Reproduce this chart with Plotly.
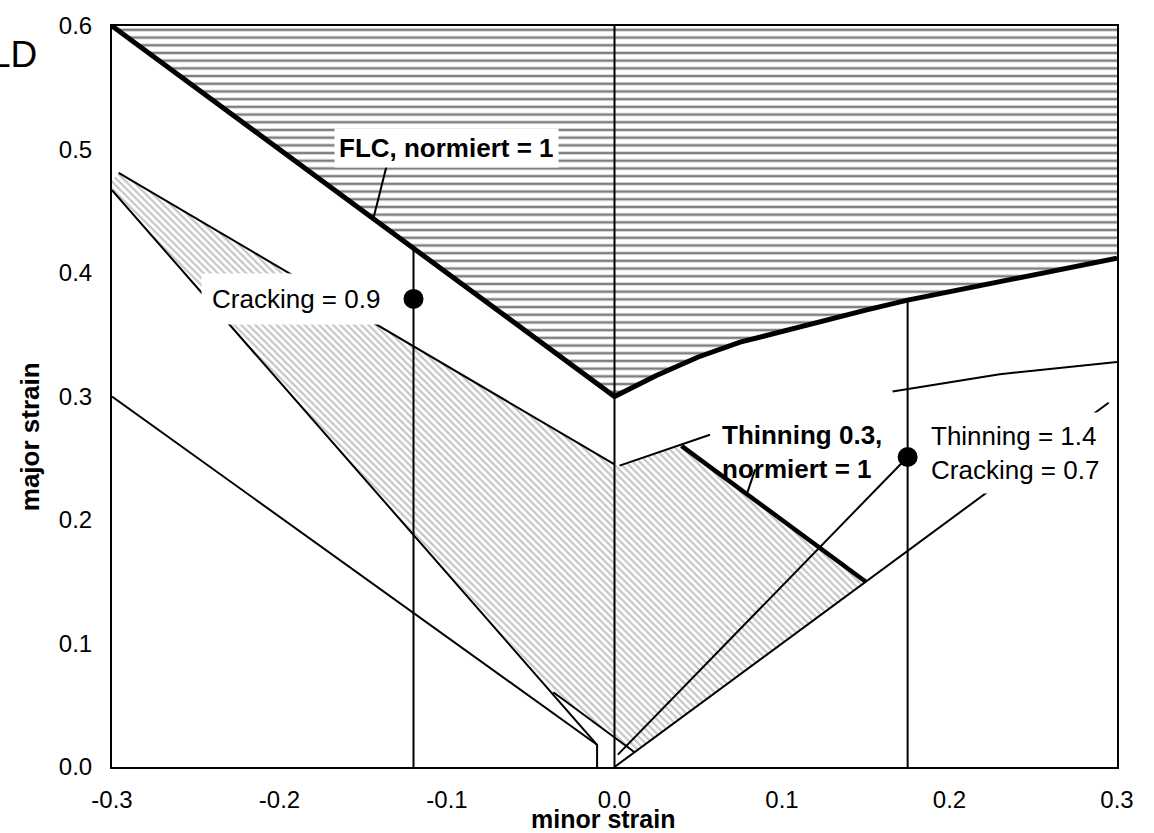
import plotly.graph_objects as go

FONT = "Liberation Sans, Arial, Helvetica, sans-serif"

# ---------------- data ----------------
x_ticks = [-0.3, -0.2, -0.1, 0.0, 0.1, 0.2, 0.3]
x_ticklabels = ["-0.3", "-0.2", "-0.1", "0.0", "0.1", "0.2", "0.3"]
y_ticks = [0.0, 0.1, 0.2, 0.3, 0.4, 0.5, 0.6]
y_ticklabels = ["0.0", "0.1", "0.2", "0.3", "0.4", "0.5", "0.6"]

# forming limit curve (FLC, normiert = 1)
flc_x = [-0.3, 0.0, 0.025, 0.05, 0.075, 0.1, 0.125, 0.15, 0.175, 0.2, 0.25, 0.3]
flc_y = [0.6, 0.3, 0.317, 0.332, 0.344, 0.353, 0.362, 0.370, 0.378, 0.385, 0.399, 0.412]
flc_top = 0.6

# grey hatched thinning zone
zone_x = [-0.3, -0.3, -0.296, 0.0, 0.003, 0.04, 0.15, 0.012, 0.0, -0.0365]
zone_y = [0.467, 0.475, 0.481, 0.245, 0.244, 0.26, 0.15, 0.012, 0.024, 0.0605]

# thin lines
steep_x = [-0.3, -0.0104, -0.0104]
steep_y = [0.467, 0.018, 0.0]
lower_x = [-0.3, -0.0104]
lower_y = [0.30, 0.018]
upper_x = [-0.296, 0.0]
upper_y = [0.481, 0.245]
thin_curve_x = [0.003, 0.057, None, 0.166, 0.23, 0.3]
thin_curve_y = [0.244, 0.269, None, 0.304, 0.318, 0.328]
bottom_x = [-0.0365, 0.012]
bottom_y = [0.0605, 0.012]
diag_x = [0.0, 0.295]
diag_y = [0.0, 0.295]
conn_x = [0.002, 0.175]
conn_y = [0.01, 0.251]

# vertical strain paths
vert_x = [0.0, -0.12, 0.175]
vert_top = [0.603, 0.42, 0.378]

# thick thinning line (Thinning 0.3, normiert = 1)
thick_x = [0.04, 0.15]
thick_y = [0.26, 0.15]

# label leader lines
flc_lead_x = [-0.144, -0.136]
flc_lead_y = [0.444, 0.487]
thin_lead_x = [0.079, 0.084]
thin_lead_y = [0.221, 0.241]

# evaluated points
pt_x = [-0.12, 0.175]
pt_y = [0.379, 0.251]

# ---------------- figure ----------------
fig = go.Figure()

# horizontal hatched region above FLC
fig.add_trace(go.Scatter(
    x=flc_x + [flc_x[-1], flc_x[0]],
    y=flc_y + [flc_top, flc_top],
    mode="none", fill="toself", fillcolor="white",
    fillpattern=dict(shape="-", size=7.7, solidity=0.33, fgcolor="#000000", bgcolor="white"),
    hoverinfo="skip"))

# grey diagonal hatched region
fig.add_trace(go.Scatter(
    x=zone_x, y=zone_y,
    mode="none", fill="toself", fillcolor="white",
    fillpattern=dict(shape="\\", size=5, solidity=0.45, fgcolor="#8c8c8c", bgcolor="white"),
    hoverinfo="skip"))

thin = dict(color="black", width=2)
for xs, ys in [(steep_x, steep_y), (lower_x, lower_y), (upper_x, upper_y),
               (thin_curve_x, thin_curve_y), (bottom_x, bottom_y), (diag_x, diag_y),
               (conn_x, conn_y), (flc_lead_x, flc_lead_y), (thin_lead_x, thin_lead_y)]:
    fig.add_trace(go.Scatter(x=xs, y=ys, mode="lines", line=thin, hoverinfo="skip",
                             cliponaxis=False))

for vx, vt in zip(vert_x, vert_top):
    fig.add_trace(go.Scatter(x=[vx, vx], y=[0, vt], mode="lines", line=thin,
                             hoverinfo="skip", cliponaxis=False))

fig.add_trace(go.Scatter(x=thick_x, y=thick_y, mode="lines",
                         line=dict(color="black", width=4.5), hoverinfo="skip"))
fig.add_trace(go.Scatter(x=flc_x, y=flc_y, mode="lines",
                         line=dict(color="black", width=5), hoverinfo="skip"))
fig.add_trace(go.Scatter(x=pt_x, y=pt_y, mode="markers",
                         marker=dict(color="black", size=20), hoverinfo="skip"))

ann_font = dict(family=FONT, size=26, color="black")
annotations = [
    dict(x=-0.1006, y=0.501, xref="x", yref="y", text="<b>FLC, normiert = 1</b>",
         showarrow=False, font=ann_font, bgcolor="white", borderpad=4),
    dict(x=-0.19, y=0.379, xref="x", yref="y", text="Cracking = 0.9",
         showarrow=False, font=ann_font, bgcolor="white", borderpad=10),
    dict(x=0.239, y=0.2546, xref="x", yref="y", text="Thinning = 1.4<br>Cracking = 0.7",
         showarrow=False, font=ann_font, bgcolor="white", borderpad=8, align="left"),
    dict(x=0.112, y=0.255, xref="x", yref="y", text="<b>Thinning 0.3,<br>normiert = 1</b>",
         showarrow=False, font=ann_font, align="left"),
    dict(x=(603 - 112) / 1005, y=-(819 - 767) / 746, xref="paper", yref="paper",
         text="<b>minor strain</b>", showarrow=False,
         font=dict(family=FONT, size=25, color="black"),
         xanchor="center", yanchor="middle"),
    dict(x=(30 - 112) / 1005, y=(767 - 435) / 746, xref="paper", yref="paper",
         text="<b>major strain</b>", showarrow=False, font=ann_font, textangle=-90,
         xanchor="center", yanchor="middle"),
    dict(x=(39 - 112) / 1005, y=(767 - 50) / 746, xref="paper", yref="paper",
         text="LD", showarrow=False, font=dict(family=FONT, size=37, color="black"),
         xanchor="right", yanchor="middle"),
]

tick_font = dict(family=FONT, size=24, color="black")
fig.update_layout(
    width=1154, height=833,
    margin=dict(l=112, r=37, t=21, b=66),
    paper_bgcolor="white", plot_bgcolor="white",
    showlegend=False,
    annotations=annotations,
    xaxis=dict(range=[-0.3, 0.3], tickvals=x_ticks, ticktext=x_ticklabels,
               showgrid=False, zeroline=False, showline=True, linecolor="black",
               linewidth=2, mirror=True, ticks="", tickfont=tick_font,
               ticklabelstandoff=10),
    yaxis=dict(range=[0, 0.6], tickvals=y_ticks, ticktext=y_ticklabels,
               showgrid=False, zeroline=False, showline=True, linecolor="black",
               linewidth=2, mirror=True, ticks="", tickfont=tick_font,
               ticklabelstandoff=13),
)

post = ("document.body.style.margin='0';document.body.style.padding='0';"
        "document.body.style.overflow='hidden';"
        "var gd=document.getElementById('{plot_id}');"
        "gd.style.position='absolute';gd.style.left='0px';gd.style.top='0px';")
fig.write_html("out.html", post_script=post, config={"displayModeBar": False})
